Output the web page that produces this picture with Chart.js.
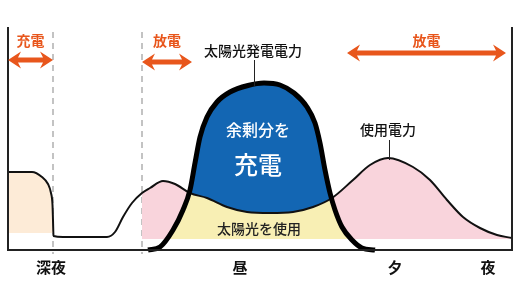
<!DOCTYPE html>
<html>
<head>
<meta charset="utf-8">
<script src="https://cdn.jsdelivr.net/npm/chart.js@4.4.0/dist/chart.umd.min.js"></script>
<style>
  body { margin: 0; background: #fff; }
  canvas { display: block; }
</style>
</head>
<body>
<canvas id="chart" width="520" height="300"></canvas>
<script>
// 使用電力 (thin line)
const usageX = [0, 24, 34, 40, 43, 44.5, 45, 45.5, 55, 99, 107, 115, 124, 134, 142, 155, 167, 182, 199, 219, 239, 262, 285, 305, 324, 345, 362, 380, 405, 422, 439, 455, 472, 489, 504];
const usageY = [78, 78, 73, 66, 57, 45, 30, 14, 13, 13, 18, 33, 47, 57, 62, 69, 66, 57, 52, 43, 38, 37, 38, 43, 52, 70, 85, 92, 83, 70, 50, 33, 22, 15, 12];

// 太陽光発電電力 (thick line)
const solarX = [140, 152, 165, 175, 182, 187, 192, 199, 209, 222, 240, 256, 272, 286, 299, 307, 312, 317, 322, 327, 334, 344, 354, 367];
const solarY = [0, 3, 20, 40, 60, 87, 113, 133, 148, 158, 164.5, 167, 165, 157, 143, 127, 107, 80, 57, 40, 23, 10, 2, 0];

// time axis labels
const timeLabels = ["深夜", "昼", "夕", "夜"];
const timeLabelX = [43, 232, 387, 480];

// dashed separators and charge / discharge spans
const dashX = [45, 134];
const arrowLabels = ["充電", "放電", "放電"];
const arrowFrom = [0, 134, 339];
const arrowTo = [45, 184, 498];

const pinkStart = 134;
const peachEnd = 45.5;
const fillBase = 11;
const peachBase = 17;

const toPoints = (xs, ys) => xs.map((v, i) => ({ x: v, y: ys[i] }));
const usage = toPoints(usageX, usageY);
const solar = toPoints(solarX, solarY);

const ORANGE = "#e8561c";
const FONT = '"Noto Sans CJK JP", "Noto Sans", sans-serif';

function drawArrow(ctx, x1, x2, y) {
  const hl = 13, hh = 8.5, sh = 2.6, notch = 3;
  ctx.beginPath();
  ctx.moveTo(x1, y);
  ctx.lineTo(x1 + hl, y - hh);
  ctx.lineTo(x1 + hl - notch, y - sh);
  ctx.lineTo(x2 - hl + notch, y - sh);
  ctx.lineTo(x2 - hl, y - hh);
  ctx.lineTo(x2, y);
  ctx.lineTo(x2 - hl, y + hh);
  ctx.lineTo(x2 - hl + notch, y + sh);
  ctx.lineTo(x1 + hl - notch, y + sh);
  ctx.lineTo(x1 + hl, y + hh);
  ctx.closePath();
  ctx.fill();
}

const overlay = {
  id: "overlay",
  beforeDatasetsDraw(chart) {
    const { ctx, chartArea: a, scales: { x } } = chart;
    ctx.save();
    ctx.strokeStyle = "#b0b0b0";
    ctx.lineWidth = 1.5;
    ctx.setLineDash([6, 5]);
    dashX.forEach((v) => {
      const px = x.getPixelForValue(v);
      ctx.beginPath();
      ctx.moveTo(px, 32);
      ctx.lineTo(px, a.bottom + 4);
      ctx.stroke();
    });
    ctx.restore();
  },
  afterDatasetsDraw(chart) {
    const { ctx, chartArea: a, scales: { x } } = chart;
    ctx.save();

    // frame
    ctx.strokeStyle = "#222";
    ctx.lineWidth = 2;
    ctx.beginPath();
    ctx.moveTo(a.left, a.top);
    ctx.lineTo(a.left, a.bottom);
    ctx.lineTo(a.right, a.bottom);
    ctx.lineTo(a.right, a.top);
    ctx.stroke();

    // arrows
    const arrowY = [60, 62, 53];
    ctx.fillStyle = ORANGE;
    arrowFrom.forEach((v, i) => {
      drawArrow(ctx, x.getPixelForValue(v), x.getPixelForValue(arrowTo[i]), arrowY[i]);
    });
    ctx.textAlign = "center";
    ctx.textBaseline = "middle";
    ctx.font = "bold 14px " + FONT;
    arrowFrom.forEach((v, i) => {
      const mid = (x.getPixelForValue(v) + x.getPixelForValue(arrowTo[i])) / 2;
      ctx.fillText(arrowLabels[i], mid, 41);
    });

    // callouts
    ctx.strokeStyle = "#222";
    ctx.lineWidth = 1;
    ctx.beginPath();
    ctx.moveTo(254.5, 60);
    ctx.lineTo(254.5, 86);
    ctx.moveTo(389.5, 140);
    ctx.lineTo(389.5, 160);
    ctx.stroke();
    ctx.fillStyle = "#111";
    ctx.font = "500 14px " + FONT;
    ctx.fillText("太陽光発電電力", 253, 51);
    ctx.fillText("使用電力", 388, 130);

    // texts inside the areas
    ctx.fillStyle = "#fff";
    ctx.font = "500 16px " + FONT;
    ctx.fillText("余剰分を", 258, 130);
    ctx.font = "500 24px " + FONT;
    ctx.fillText("充電", 258, 165);
    ctx.fillStyle = "#222";
    ctx.font = "500 14px " + FONT;
    ctx.fillText("太陽光を使用", 259, 229);

    // time labels
    ctx.fillStyle = "#111";
    ctx.font = "bold 15px " + FONT;
    timeLabels.forEach((t, i) => {
      ctx.fillText(t, x.getPixelForValue(timeLabelX[i]), 267);
    });
    ctx.restore();
  },
};

new Chart(document.getElementById("chart"), {
  type: "line",
  data: {
    datasets: [
      {
        // 0: solar outline
        data: solar,
        borderColor: "#000",
        borderWidth: 5,
        fill: false,
        order: 1,
        clip: 8,
      },
      {
        // 1: usage outline
        data: usage,
        borderColor: "#111",
        borderWidth: 2,
        fill: false,
        order: 2,
        clip: 8,
      },
      {
        // 2: surplus (solar above usage)
        data: solar,
        borderWidth: 0,
        borderColor: "transparent",
        fill: { target: 1, above: "#1366b3", below: "rgba(0,0,0,0)" },
        order: 3,
      },
      {
        // 3: solar used directly
        data: solar,
        borderWidth: 0,
        borderColor: "transparent",
        fill: { value: fillBase, above: "#f8efb4", below: "rgba(0,0,0,0)" },
        order: 4,
      },
      {
        // 4: usage from battery / grid
        data: usage.filter((p) => p.x >= pinkStart),
        borderWidth: 0,
        borderColor: "transparent",
        fill: { value: fillBase, above: "#f9d4dc", below: "rgba(0,0,0,0)" },
        order: 5,
      },
      {
        // 5: night usage (charging time)
        data: usage.filter((p) => p.x <= peachEnd),
        borderWidth: 0,
        borderColor: "transparent",
        fill: { value: peachBase, above: "#fdebd7", below: "rgba(0,0,0,0)" },
        order: 6,
      },
    ],
  },
  options: {
    responsive: false,
    animation: false,
    elements: {
      point: { radius: 0 },
      line: { cubicInterpolationMode: "monotone", borderCapStyle: "butt" },
    },
    layout: { padding: { left: 8, right: 8, top: 27, bottom: 50 } },
    scales: {
      x: { type: "linear", min: 0, max: 504, display: false },
      y: { min: 0, max: 223, display: false },
    },
    plugins: {
      legend: { display: false },
      tooltip: { enabled: false },
    },
  },
  plugins: [overlay],
});
</script>
</body>
</html>
